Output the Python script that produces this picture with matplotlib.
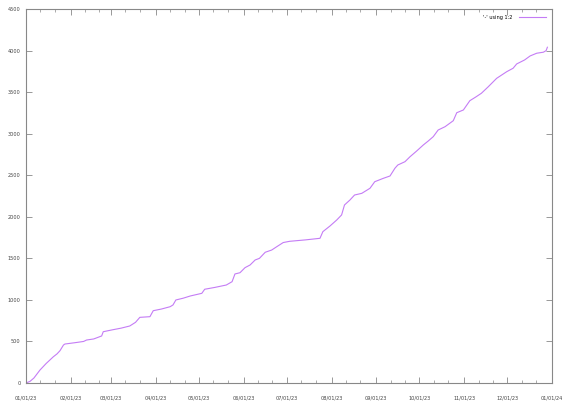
import matplotlib
matplotlib.use("Agg")
import matplotlib.pyplot as plt
import matplotlib.dates as mdates
import datetime as dt

# day offsets from 2023-01-01 and cumulative values
days = [0, 2.8, 5.5, 9.7, 14, 19, 21.5, 23.6, 26, 27, 34, 40, 42, 47, 52.5, 53.6, 60, 66,
        72, 76, 79, 86, 88.3, 94, 100, 102, 104, 109, 114, 122, 124, 131, 139, 143,
        145, 148.5, 152, 155.5, 159, 162, 166, 170.5, 174, 178.5, 183, 194, 204, 206,
        211, 215.6, 219, 221, 224.8, 228, 233, 238.7, 242, 248, 252.6, 256, 258, 263,
        266.5, 271, 275.7, 279, 282.6, 286, 290.8, 296.5, 298.9, 303.5, 308, 312, 316,
        320.8, 326.6, 333.6, 338, 340.5, 346, 349.8, 354.4, 359, 360.9, 361.8]
values = [0, 20, 60, 156, 235, 316, 350, 389, 457, 469, 485, 500, 517, 530, 566, 617, 640,
          660, 686, 730, 790, 798, 870, 890, 918, 939, 999, 1020, 1047, 1079, 1128, 1150,
          1179, 1219, 1312, 1327, 1388, 1420, 1480, 1500, 1573, 1600, 1640, 1690, 1705,
          1722, 1741, 1821, 1890, 1961, 2022, 2142, 2202, 2262, 2282, 2343, 2422, 2463,
          2491, 2584, 2623, 2663, 2723, 2790, 2864, 2910, 2964, 3044, 3084, 3156, 3252,
          3285, 3397, 3440, 3486, 3565, 3666, 3746, 3787, 3839, 3887, 3935, 3968, 3980,
          3999, 4040]
legend_label = "'-' using 1:2"
yticks = [0, 500, 1000, 1500, 2000, 2500, 3000, 3500, 4000, 4500]

start = dt.datetime(2023, 1, 1)
dates = [start + dt.timedelta(days=d) for d in days]

fig = plt.figure(figsize=(5.72, 4.03), dpi=100)
ax = fig.add_axes([26/572, 20/403, (552-26)/572, (383-9)/403])
line_color = '#c47cf5'
ax.plot(dates, values, color=line_color, lw=0.8, label=legend_label)

ax.set_xlim(start, dt.datetime(2024, 1, 1))
ax.set_ylim(0, 4500)
ax.set_yticks(yticks)
ax.xaxis.set_major_locator(mdates.MonthLocator())
ax.xaxis.set_major_formatter(mdates.DateFormatter('%m/%d/%y'))
ax.xaxis.set_minor_locator(mdates.DayLocator(bymonthday=[11, 21]))

axis_col = '#888888'
for s in ax.spines.values():
    s.set_color(axis_col)
    s.set_linewidth(0.8)
ax.tick_params(axis='both', which='major', direction='in', length=4, width=0.6,
               color=axis_col, labelsize=3.6, labelcolor='#444444', top=True, right=True)
ax.tick_params(axis='x', which='major', pad=9)
ax.tick_params(axis='y', which='major', pad=4)
ax.tick_params(axis='x', which='minor', direction='in', length=2, width=0.5,
               color=axis_col, top=True)

leg = ax.legend(loc='upper right', frameon=False, fontsize=3.6, handlelength=5.5,
                handletextpad=1.2, borderaxespad=0.8, markerfirst=False)

fig.savefig('out.png', dpi=100)
